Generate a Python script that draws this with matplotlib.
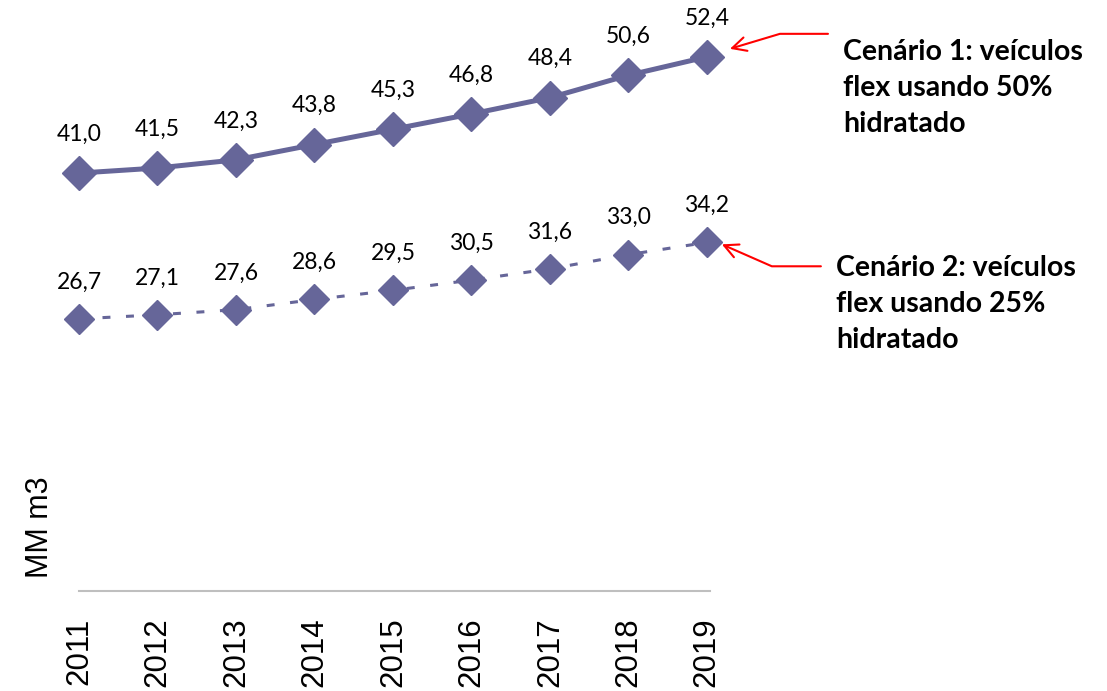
import matplotlib
matplotlib.use("Agg")
import matplotlib.pyplot as plt
from matplotlib.transforms import offset_copy

# data
years = [2011, 2012, 2013, 2014, 2015, 2016, 2017, 2018, 2019]
cenario1 = [41.0, 41.5, 42.3, 43.8, 45.3, 46.8, 48.4, 50.6, 52.4]
cenario2 = [26.7, 27.1, 27.6, 28.6, 29.5, 30.5, 31.6, 33.0, 34.2]
texto1 = "Cenário 1: veículos\nflex usando 50%\nhidratado"
texto2 = "Cenário 2: veículos\nflex usando 25%\nhidratado"
ylabel = "MM m3"

cor = "#666699"

fig = plt.figure(figsize=(11.07, 6.91), dpi=100)
ax = fig.add_axes([79 / 1107, 1 - 591 / 691, (710 - 79) / 1107, 581 / 691])

ax.plot(years, cenario1, color=cor, lw=3.6, marker="D", ms=17, zorder=3, clip_on=False)
ax.plot(years, cenario2, color=cor, lw=2.2, marker="D", ms=15, dashes=(2.6, 5.1), zorder=3,
        clip_on=False)

# rotulos dos pontos
for x, y in zip(years, cenario1):
    ax.annotate(f"{y:.1f}".replace(".", ","), (x, y), xytext=(0, 28), textcoords="offset points",
                ha="center", va="center", fontsize=16.5, family="Lato")
for x, y in zip(years, cenario2):
    ax.annotate(f"{y:.1f}".replace(".", ","), (x, y), xytext=(0, 26.5), textcoords="offset points",
                ha="center", va="center", fontsize=16.5, family="Lato")

ax.set_xlim(years[0], years[-1] + 0.04)
ax.set_ylim(0, 57)

for s in ["top", "right", "left"]:
    ax.spines[s].set_visible(False)
ax.spines["bottom"].set_color("#BFBFBF")
ax.spines["bottom"].set_linewidth(1.5)
ax.set_yticks([])
ax.set_xticks(years)
ax.set_xticklabels([str(y) for y in years], rotation=90, fontsize=22.5, family="Liberation Sans")
ax.tick_params(axis="x", length=0, pad=19)

fig.text(40 / 1107, 1 - 578 / 691, ylabel, rotation=90, ha="center", va="bottom",
         fontsize=22, family="Liberation Sans")

# setas e textos das anotacoes
arrow = dict(arrowstyle="->,head_length=1.0,head_width=0.5", color="red", lw=1.5,
             shrinkA=0, shrinkB=0)

tip1 = offset_copy(ax.transData, fig=fig, x=16.6, y=5.8, units="points")
ax.annotate("", xy=(years[-1], cenario1[-1]), xycoords=tip1, xytext=(70.6, 10.8),
            textcoords="offset points",
            arrowprops=dict(arrow, connectionstyle="angle,angleA=0,angleB=16.7,rad=0"))
tip2 = offset_copy(ax.transData, fig=fig, x=10.8, y=-1.4, units="points")
ax.annotate("", xy=(years[-1], cenario2[-1]), xycoords=tip2, xytext=(71.3, -15.8),
            textcoords="offset points",
            arrowprops=dict(arrow, connectionstyle="angle,angleA=0,angleB=-23.7,rad=0"))

ax.annotate(texto1, (years[-1], cenario1[-1]), xytext=(98, -22.5), textcoords="offset points",
            ha="left", va="center", fontsize=20.5, fontweight="bold", family="Lato",
            linespacing=1.48, annotation_clip=False)
ax.annotate(texto2, (years[-1], cenario2[-1]), xytext=(93, -44.5), textcoords="offset points",
            ha="left", va="center", fontsize=20.5, fontweight="bold", family="Lato",
            linespacing=1.48, annotation_clip=False)

fig.savefig("out.png", dpi=100)
